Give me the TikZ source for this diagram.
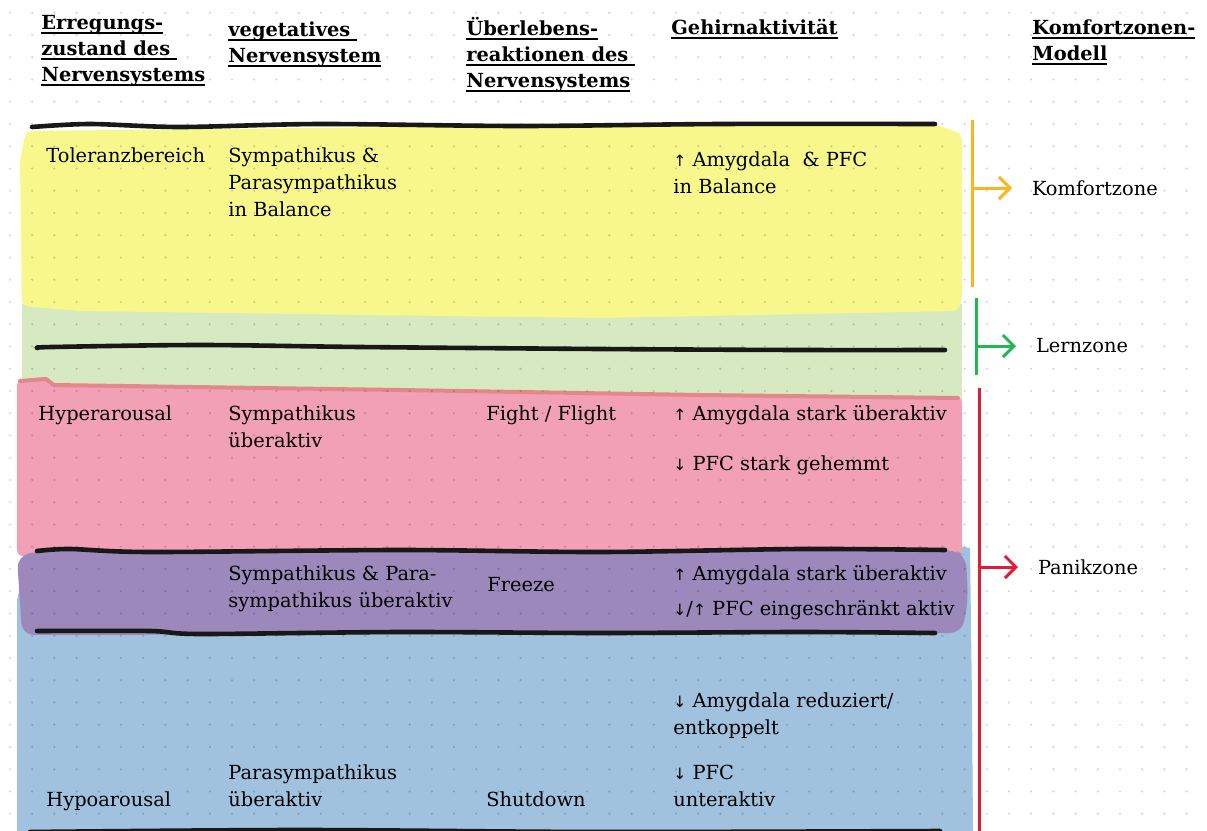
\documentclass[tikz,border=0pt]{standalone}
\usepackage{fontspec}
\setmainfont{DejaVu Serif}
\newfontfamily\pfeilfont{DejaVu Sans}
\usetikzlibrary{arrows.meta}

\definecolor{tolgelb}{RGB}{248,247,140}
\definecolor{lerngruen}{RGB}{214,233,193}
\definecolor{hyperrosa}{RGB}{242,160,182}
\definecolor{randrot}{RGB}{226,136,138}
\definecolor{freezelila}{RGB}{156,136,186}
\definecolor{hypoblau}{RGB}{160,194,222}
\definecolor{komfortorange}{RGB}{250,182,32}
\definecolor{lernlinie}{RGB}{34,182,84}
\definecolor{panikrot}{RGB}{226,28,52}
\definecolor{marker}{RGB}{24,24,24}

\newsavebox\kopfbox
\newcommand{\kopf}[1]{\sbox\kopfbox{#1}\rlap{\rule[-2.3pt]{\wd\kopfbox}{0.9pt}}\usebox\kopfbox}
\newcommand{\hoch}{{\pfeilfont\fontsize{7.8}{7.8}\selectfont ↑}}
\newcommand{\runter}{{\pfeilfont\fontsize{7.8}{7.8}\selectfont ↓}}

\tikzset{
    txt/.style={anchor=base west, inner sep=0pt, align=left,
        font=\fontsize{9.7}{13.5}\selectfont},
    kopfzeile/.style={txt, font=\fontsize{9.7}{13}\selectfont\bfseries},
    zonenname/.style={anchor=west, inner sep=0pt, outer sep=10pt,
        font=\fontsize{9.7}{13.5}\selectfont},
    klammer/.style={line width=1.5pt},
    zonenpfeil/.style={line width=1.5pt, -{Straight Barb[length=5.5pt,width=11pt]}},
    strich/.style={draw=marker, line width=2.3pt, line cap=round, line join=round},
}

\begin{document}
\begin{tikzpicture}[x=0.5pt, y=-0.5pt]
        \useasboundingbox (0,0) rectangle (1207,831);
        \fill[white] (0,0) rectangle (1207,831);
        % farbige Bereiche
            \fill[hypoblau] (17,600) -- (30,545) -- (945,544) -- (970,548)
                -- (972,700) -- (973,831) -- (17,831) -- cycle;
            \fill[lerngruen] (22,304) -- (962,304) -- (962,400) -- (22,400) -- cycle;
            \fill[tolgelb, rounded corners=3pt] (26,131) -- (400,127) -- (935,124)
                -- (962,134) -- (962,300) -- (958,311) -- (600,318) -- (300,314)
                -- (80,311) -- (22,306) -- (20,160) -- cycle;
            \fill[hyperrosa, rounded corners=3pt] (17,380) -- (46,377) -- (52,384)
                -- (400,389) -- (700,394) -- (962,397) -- (962,556) -- (17,556) -- cycle;
            \draw[randrot, line width=2pt, line cap=round] (20,381) -- (46,379)
                -- (54,385) -- (400,390) -- (700,395) -- (958,398);
            \fill[freezelila, rounded corners=6pt] (17,556) -- (40,551) -- (955,550)
                -- (966,556) -- (968,600) -- (962,633) -- (22,635) -- cycle;
        % Punktraster
        \foreach \i in {0,...,54}
            \foreach \j in {0,...,37}
                \fill[black, opacity=0.17] (10+\i*22.2, 12.7+\j*22.25) circle (0.6pt);
        % Markerstriche
            \draw[strich] plot[smooth] coordinates {(32,127) (90,124) (180,127)
                (320,124) (520,126) (720,124) (935,124)};
            \draw[strich] plot[smooth] coordinates {(38,348) (52,347) (200,345)
                (360,347) (600,349) (800,350) (945,350)};
            \draw[strich] plot[smooth] coordinates {(37,551) (70,549) (150,552)
                (400,550) (600,552) (800,549) (945,550)};
            \draw[strich] plot[smooth] coordinates {(37,631) (150,631) (200,634)
                (400,632) (600,633) (800,632) (935,633)};
            \draw[strich] plot[smooth] coordinates {(30,832) (300,830)
                (600,832) (940,831)};
        % Kopfzeile
        \node[kopfzeile] (kerregung) at (41,81)
            {\kopf{Erregungs-}\\\kopf{zustand des\ }\\\kopf{Nervensystems}};
        \node[kopfzeile] (kvegetativ) at (228,62)
            {\kopf{vegetatives\ }\\\kopf{Nervensystem}};
        \node[kopfzeile] (kueberleben) at (466,87)
            {\kopf{Überlebens-}\\\kopf{reaktionen des\ }\\\kopf{Nervensystems}};
        \node[kopfzeile] (kgehirn) at (671,34) {\kopf{Gehirnaktivität}};
        \node[kopfzeile] (kmodell) at (1032,60)
            {\kopf{Komfortzonen-}\\\kopf{Modell}};
        % Toleranzbereich
        \node[txt] (tol) at (46,162) {Toleranzbereich};
        \node[txt] (tolveg) at (228,216)
            {Sympathikus \&\\Parasympathikus\\in Balance};
        \node[txt] (tolhirn) at (673,193)
            {\hoch\ Amygdala~ \& PFC\\in Balance};
        % Hyperarousal
        \node[txt] (hyper) at (38,420) {Hyperarousal};
        \node[txt] (hyperveg) at (228,447) {Sympathikus\\überaktiv};
        \node[txt] (fight) at (486,420) {Fight / Flight};
        \node[txt] (hyperamyg) at (673,420) {\hoch\ Amygdala stark überaktiv};
        \node[txt] (hyperpfc) at (673,470) {\runter\ PFC stark gehemmt};
        % Freeze
        \node[txt] (freezeveg) at (228,607)
            {Sympathikus \& Para-\\sympathikus überaktiv};
        \node[txt] (freeze) at (487,591) {Freeze};
        \node[txt] (freezeamyg) at (673,580) {\hoch\ Amygdala stark überaktiv};
        \node[txt] (freezepfc) at (673,615) {\runter/\hoch\ PFC eingeschränkt aktiv};
        % Hypoarousal
        \node[txt] (hypoamyg) at (673,734) {\runter\ Amygdala reduziert/\\entkoppelt};
        \node[txt] (hypopfc) at (673,806) {\runter\ PFC\\unteraktiv};
        \node[txt] (hypoveg) at (228,806) {Parasympathikus\\überaktiv};
        \node[txt] (hypo) at (46,806) {Hypoarousal};
        \node[txt] (shutdown) at (486,806) {Shutdown};
        % Komfortzonen-Modell
        \coordinate (komfortoben) at (972,120);
        \coordinate (komfortunten) at (972,287);
        \coordinate (komfortmitte) at (972,188);
        \node[zonenname] (komfort) at (1012,188) {Komfortzone};
            \draw[klammer, komfortorange] (komfortoben) -- (komfortunten);
            \draw[zonenpfeil, komfortorange] (komfortmitte) -- (komfort.west);
        \coordinate (lernoben) at (976,298);
        \coordinate (lernunten) at (976,375);
        \coordinate (lernmitte) at (976,346);
        \node[zonenname] (lern) at (1016,346) {Lernzone};
            \draw[klammer, lernlinie] (lernoben) -- (lernunten);
            \draw[zonenpfeil, lernlinie] (lernmitte) -- (lern.west);
        \coordinate (panikoben) at (979,388);
        \coordinate (panikunten) at (979,831);
        \coordinate (panikmitte) at (979,567);
        \node[zonenname] (panik) at (1018,567) {Panikzone};
            \draw[klammer, panikrot] (panikoben) -- (panikunten);
            \draw[zonenpfeil, panikrot] (panikmitte) -- (panik.west);
\end{tikzpicture}
\end{document}
